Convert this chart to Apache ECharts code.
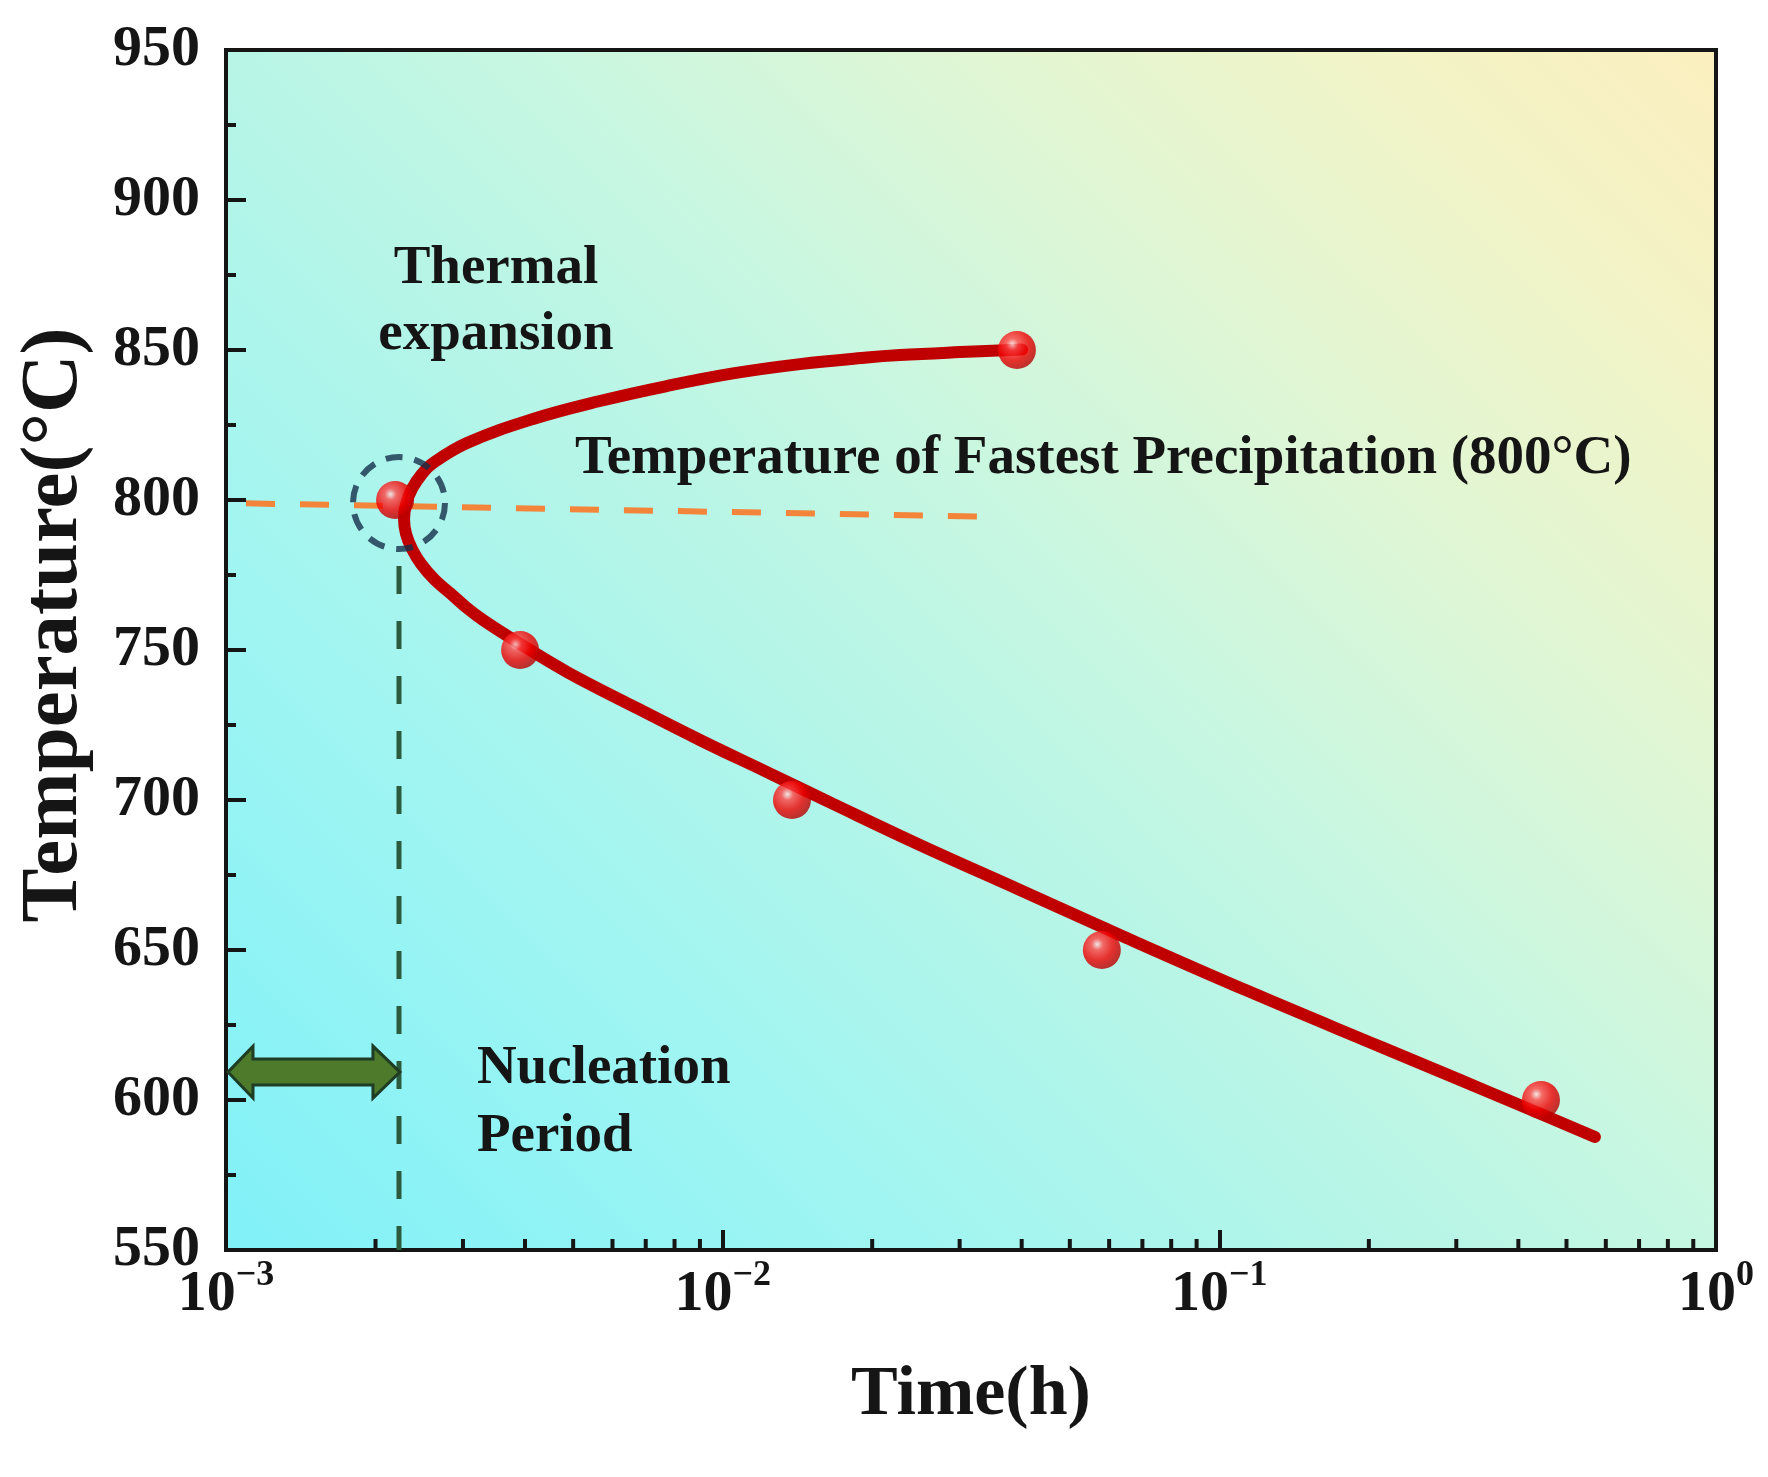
<!DOCTYPE html>
<html>
<head>
<meta charset="utf-8">
<title>TTT curve</title>
<script src="https://cdn.jsdelivr.net/npm/echarts@6.0.0/dist/echarts.min.js"></script>
<style>
  html, body { margin: 0; padding: 0; background: #fff; }
  #main { width: 1768px; height: 1477px; }
</style>
</head>
<body>
<div id="main"></div>
<script>
var FONT = '"Times New Roman", "Liberation Serif", serif';
var INK = '#151515';

// measured points: time (h) / temperature (°C)
var pointTime = [0.00219, 0.00391, 0.01379, 0.03913, 0.0580, 0.4442];
var pointTemp = [800, 750, 700, 850, 650, 600];

// fitted C-curve, from the upper end round the nose to the lower end
var curveTime = [0.04005, 0.03005, 0.02275, 0.01952, 0.01431, 0.01049, 0.00772, 0.00566, 0.00415, 0.003056,
                 0.00261, 0.002481, 0.002368, 0.002304, 0.002283, 0.002304, 0.002368, 0.00247, 0.002635, 0.002825,
                 0.003042, 0.003292, 0.003854, 0.004859, 0.006598, 0.0090, 0.01228, 0.01668, 0.02495, 0.03968,
                 0.06308, 0.1142, 0.2115, 0.3051, 0.3936, 0.5705];
var curveTemp = [850.2, 849.3, 848.3, 847.5, 845.3, 842.2, 838.0, 833.0, 827.0, 819.0,
                 812.3, 808.7, 803.7, 798.7, 793.7, 788.7, 783.7, 778.7, 773.3, 769.0,
                 764.3, 760.0, 752.7, 742.7, 731.3, 720.0, 709.3, 698.7, 685.0, 670.0,
                 655.0, 636.3, 617.7, 606.7, 599.0, 587.7];

// guide lines
var fastestTime = [0.001, 0.0327];
var fastestTemp = [799, 794.5];
var noseTime = [0.00223, 0.00223];
var noseTemp = [778, 550];
var circleAt = [0.00223, 799];
var nucleation = [0.001, 0.00224, 609.3];   // from, to, temperature

// axis ticks
var xMajorTicks = [0.001, 0.01, 0.1, 1];
var xMinorTicks = [0.002, 0.003, 0.004, 0.005, 0.006, 0.007, 0.008, 0.009,
                   0.02, 0.03, 0.04, 0.05, 0.06, 0.07, 0.08, 0.09,
                   0.2, 0.3, 0.4, 0.5, 0.6, 0.7, 0.8, 0.9];
var xTickExp = ['\u22123', '\u22122', '\u22121', '0'];

var notes = [
  { text: 'Thermal\nexpansion', t: 0.003496, temp: 866, align: 'center', lh: 66 },
  { text: 'Temperature of Fastest Precipitation (800\u00b0C)', t: 0.005043, temp: 813.6, align: 'left', lh: 66 },
  { text: 'Nucleation\nPeriod', t: 0.0032, temp: 599, align: 'left', lh: 68 }
];

function pairs(xs, ys) {
  return xs.map(function (x, i) { return [x, ys[i]]; });
}

var chart = echarts.init(document.getElementById('main'));

var option = {
  animation: false,
  grid: {
    left: 226, right: 52, top: 50, bottom: 227,
    show: true,
    borderColor: INK,
    borderWidth: 4,
    backgroundColor: new echarts.graphic.LinearGradient(0, 1, 0.895, -0.128, [
      { offset: 0, color: '#80f1f8' },
      { offset: 0.27, color: '#a2f5f1' },
      { offset: 0.45, color: '#b8f5e6' },
      { offset: 0.55, color: '#c6f7e2' },
      { offset: 0.72, color: '#e0f6d4' },
      { offset: 0.86, color: '#f1f4c8' },
      { offset: 1, color: '#fcefbf' }
    ])
  },
  xAxis: {
    type: 'log',
    logBase: 10,
    min: 0.001,
    max: 1,
    axisLine: { lineStyle: { color: INK, width: 4 } },
    axisTick: { inside: true, length: 20, lineStyle: { color: INK, width: 4 } },
    splitLine: { show: false },
    axisLabel: {
      margin: 8,
      formatter: function (v) {
        var i = xMajorTicks.indexOf(+v.toPrecision(3));
        var e = i >= 0 ? xTickExp[i] : String(Math.round(Math.log10(v)));
        return '{b|10}{s|' + e + '}';
      },
      rich: {
        b: { fontFamily: FONT, fontWeight: 'bold', fontSize: 58, color: INK, lineHeight: 66, verticalAlign: 'bottom' },
        s: { fontFamily: FONT, fontWeight: 'bold', fontSize: 36, color: INK, lineHeight: 66, verticalAlign: 'top' }
      }
    },
    name: 'Time(h)',
    nameLocation: 'middle',
    nameGap: 111,
    nameTextStyle: { fontFamily: FONT, fontWeight: 'bold', fontSize: 70, color: INK }
  },
  yAxis: {
    type: 'value',
    min: 550,
    max: 950,
    interval: 50,
    axisLine: { show: true, lineStyle: { color: INK, width: 4 } },
    axisTick: { show: true, inside: true, length: 20, lineStyle: { color: INK, width: 4 } },
    minorTick: { show: true, splitNumber: 2, length: 10, lineStyle: { color: INK, width: 4 } },
    splitLine: { show: false },
    axisLabel: { margin: 26, fontFamily: FONT, fontWeight: 'bold', fontSize: 58, color: INK },
    name: 'Temperature(\u00b0C)',
    nameLocation: 'middle',
    nameGap: 130,
    nameTextStyle: { fontFamily: FONT, fontWeight: 'bold', fontSize: 81, color: INK, padding: [0, 0, 0, 50] }
  },
  series: [
    {
      // log-axis minor ticks at 2..9 of each decade
      type: 'custom',
      silent: true,
      z: 5,
      data: xMinorTicks.map(function (v) { return [v, 550]; }),
      renderItem: function (params, api) {
        var p = api.coord([api.value(0), api.value(1)]);
        return {
          type: 'line',
          shape: { x1: p[0], y1: p[1], x2: p[0], y2: p[1] - 11 },
          style: { stroke: INK, lineWidth: 4 }
        };
      }
    },
    {
      type: 'line',
      data: pairs(fastestTime, fastestTemp),
      symbol: 'none',
      silent: true,
      z: 2,
      lineStyle: { color: '#f2853a', width: 6, type: [29, 25], dashOffset: 34 }
    },
    {
      type: 'line',
      data: pairs(noseTime, noseTemp),
      symbol: 'none',
      silent: true,
      z: 2,
      lineStyle: { color: '#2c5a3c', width: 5, type: [28, 27] }
    },
    {
      type: 'custom',
      silent: true,
      z: 3,
      data: [nucleation],
      encode: { x: [0, 1], y: 2 },
      renderItem: function (params, api) {
        var a = api.coord([api.value(0), api.value(2)]);
        var b = api.coord([api.value(1), api.value(2)]);
        var y = a[1], hl = 27, hh = 26, sh = 13;
        return {
          type: 'polygon',
          shape: {
            points: [
              [a[0] + 2, y], [a[0] + hl, y - hh], [a[0] + hl, y - sh], [b[0] - hl, y - sh],
              [b[0] - hl, y - hh], [b[0], y], [b[0] - hl, y + hh], [b[0] - hl, y + sh],
              [a[0] + hl, y + sh], [a[0] + hl, y + hh]
            ]
          },
          style: { fill: '#4d7a2b', stroke: '#1f3d24', lineWidth: 3 }
        };
      }
    },
    {
      type: 'line',
      data: pairs(curveTime, curveTemp),
      smooth: 0.4,
      symbol: 'none',
      silent: true,
      z: 3,
      lineStyle: { color: '#c00000', width: 12, cap: 'round' }
    },
    {
      type: 'scatter',
      data: pairs(pointTime, pointTemp),
      symbolSize: 38,
      silent: true,
      z: 4,
      itemStyle: {
        color: new echarts.graphic.RadialGradient(0.38, 0.35, 0.7, [
          { offset: 0, color: '#ffe2e2' },
          { offset: 0.22, color: '#ff4545' },
          { offset: 0.6, color: '#f00000' },
          { offset: 1, color: '#b00000' }
        ])
      }
    },
    {
      type: 'scatter',
      data: [circleAt],
      symbolSize: 92,
      silent: true,
      z: 6,
      itemStyle: { color: 'rgba(0,0,0,0)', borderColor: '#15304a', borderWidth: 6, borderType: [17, 12] }
    }
  ]
};

chart.setOption(option);

chart.setOption({
  graphic: notes.map(function (n) {
    var p = chart.convertToPixel({ gridIndex: 0 }, [n.t, n.temp]);
    return {
      type: 'text',
      x: p[0],
      y: p[1],
      z: 10,
      style: {
        text: n.text,
        fill: INK,
        fontFamily: FONT,
        fontWeight: 'bold',
        fontSize: 55,
        lineHeight: n.lh,
        align: n.align,
        verticalAlign: 'middle'
      }
    };
  })
});
</script>
</body>
</html>
